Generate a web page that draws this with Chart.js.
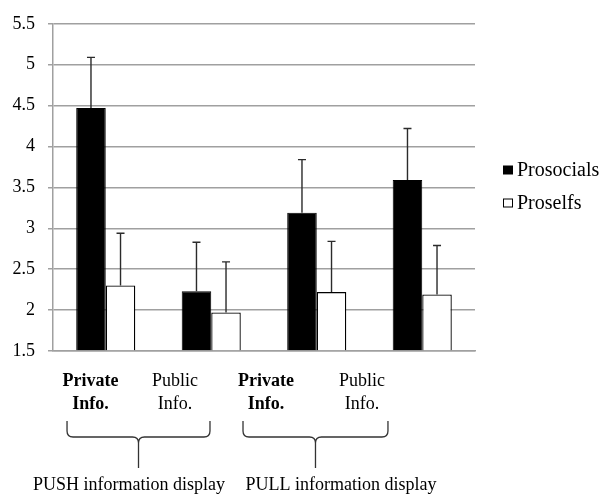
<!DOCTYPE html>
<html>
<head>
<meta charset="utf-8">
<script src="https://cdn.jsdelivr.net/npm/chart.js@4"></script>
<style>
  html, body { margin: 0; padding: 0; background: #fff; }
  #wrap { width: 602px; height: 494px; }
</style>
</head>
<body>
<div id="wrap"><canvas id="c" width="602" height="494"></canvas></div>
<script>
// Mean ratings per condition, with the top of each error bar
const categories = [["Private", "Info."], ["Public", "Info."], ["Private", "Info."], ["Public", "Info."]];
const boldCategory = [true, false, true, false];
const seriesNames = ["Prosocials", "Proselfs"];
const prosocials = [4.47, 2.23, 3.19, 3.59];
const proselfs = [2.30, 1.97, 2.22, 2.19];
const prosocialsUpper = [5.09, 2.83, 3.84, 4.22];
const proselfsUpper = [2.94, 2.59, 2.84, 2.79];
const groupLabels = ["PUSH information display", "PULL information display"];
const yMin = 1.5, yMax = 5.5, yStep = 0.5;

const SERIF = '"Liberation Serif", "Times New Roman", serif';

// Upward-only error bars above each bar
const errorBars = {
  id: 'errorBars',
  afterDatasetsDraw(chart) {
    const ctx = chart.ctx;
    const y = chart.scales.y;
    const uppers = [prosocialsUpper, proselfsUpper];
    ctx.save();
    ctx.strokeStyle = '#2b2b2b';
    ctx.lineWidth = 1.4;
    chart.data.datasets.forEach((ds, di) => {
      const meta = chart.getDatasetMeta(di);
      meta.data.forEach((bar, i) => {
        const top = y.getPixelForValue(uppers[di][i]);
        ctx.beginPath();
        ctx.moveTo(bar.x, bar.y);
        ctx.lineTo(bar.x, top);
        ctx.moveTo(bar.x - 4, top);
        ctx.lineTo(bar.x + 4, top);
        ctx.stroke();
      });
    });
    ctx.restore();
  }
};

// Category captions, braces, group captions and the legend
const annotations = {
  id: 'annotations',
  afterDraw(chart) {
    const ctx = chart.ctx;
    const x = chart.scales.x;
    ctx.save();
    ctx.fillStyle = '#000';
    ctx.textAlign = 'center';
    ctx.textBaseline = 'middle';

    // two-line category captions under the axis
    const labelAt = [-0.145, 0.656, 1.519, 2.429];
    categories.forEach((lines, i) => {
      ctx.font = (boldCategory[i] ? 'bold ' : '') + '18px ' + SERIF;
      const cx = x.getPixelForValue(labelAt[i]);
      lines.forEach((t, k) => ctx.fillText(t, cx, 381 + k * 23.5));
    });

    // braces grouping pairs of categories
    const spans = [[-0.367, 0.988], [1.301, 2.675]];
    const top = 421, mid = 437, bottom = 468, r = 6;
    ctx.strokeStyle = '#333';
    ctx.lineWidth = 1.3;
    spans.forEach(([a, b]) => {
      const x0 = x.getPixelForValue(a);
      const x1 = x.getPixelForValue(b);
      const cx = (x0 + x1) / 2;
      ctx.beginPath();
      ctx.moveTo(x0, top);
      ctx.lineTo(x0, mid - r);
      ctx.quadraticCurveTo(x0, mid, x0 + r, mid);
      ctx.lineTo(cx - r, mid);
      ctx.quadraticCurveTo(cx, mid, cx, mid + r);
      ctx.lineTo(cx, bottom);
      ctx.moveTo(x1, top);
      ctx.lineTo(x1, mid - r);
      ctx.quadraticCurveTo(x1, mid, x1 - r, mid);
      ctx.lineTo(cx + r, mid);
      ctx.quadraticCurveTo(cx, mid, cx, mid + r);
      ctx.stroke();
    });

    // group captions
    const captionAt = [0.22, 2.23];
    ctx.font = '18px ' + SERIF;
    groupLabels.forEach((t, i) => {
      ctx.fillText(t, x.getPixelForValue(captionAt[i]), 485);
    });

    // legend
    const fills = ['#000000', '#ffffff'];
    const rowsY = [170, 203];
    ctx.font = '20px ' + SERIF;
    ctx.textAlign = 'left';
    seriesNames.forEach((name, i) => {
      ctx.fillStyle = fills[i];
      ctx.fillRect(503.5, rowsY[i] - 4, 9, 8);
      ctx.strokeStyle = '#000';
      ctx.lineWidth = 1;
      ctx.strokeRect(503.5, rowsY[i] - 4, 9, 8);
      ctx.fillStyle = '#000';
      ctx.fillText(name, 517, rowsY[i] + 1);
    });
    ctx.restore();
  }
};

new Chart(document.getElementById('c'), {
  type: 'bar',
  data: {
    labels: categories,
    datasets: [
      {
        label: seriesNames[0],
        data: prosocials,
        backgroundColor: '#000000',
        borderColor: '#000000',
        borderWidth: 1
      },
      {
        label: seriesNames[1],
        data: proselfs,
        backgroundColor: '#ffffff',
        borderColor: '#000000',
        borderWidth: 1.3
      }
    ]
  },
  options: {
    responsive: false,
    animation: false,
    devicePixelRatio: 1,
    layout: { padding: { top: 19, right: 127, left: 0, bottom: 0 } },
    datasets: {
      bar: { categoryPercentage: 0.56, barPercentage: 1.0, base: yMin }
    },
    plugins: {
      legend: { display: false },
      tooltip: { enabled: false }
    },
    scales: {
      x: {
        grid: { display: false, drawTicks: false },
        border: { display: true, color: '#a0a0a0', width: 1.5 },
        ticks: { display: false },
        afterFit: (s) => { s.height = 143; }
      },
      y: {
        min: yMin,
        max: yMax,
        grid: { color: '#a0a0a0', lineWidth: 1.5, tickLength: 5 },
        border: { display: true, color: '#a0a0a0', width: 1.5 },
        ticks: {
          stepSize: yStep,
          padding: 13,
          color: '#000',
          font: { family: SERIF, size: 18 },
          callback: (v) => String(Number(v))
        },
        afterFit: (s) => { s.width = 53; }
      }
    }
  },
  plugins: [errorBars, annotations]
});
</script>
</body>
</html>
